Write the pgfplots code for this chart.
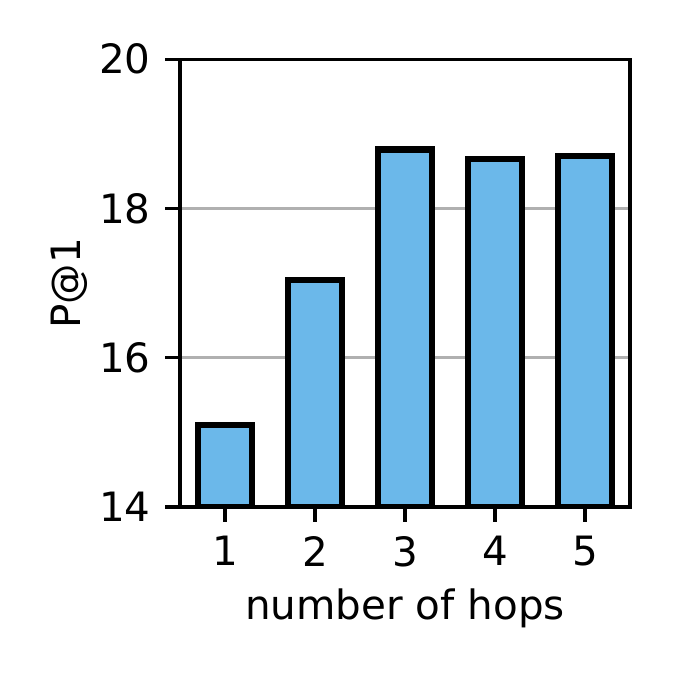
\documentclass[border=0pt]{standalone}
\usepackage{pgfplots}
\pgfplotsset{compat=1.18}
\usepackage{fontspec}
\setmainfont{DejaVu Sans}
\definecolor{barblue}{HTML}{6BB8EA}
\definecolor{gridgray}{HTML}{B0B0B0}
\begin{document}
\begin{tikzpicture}
\path[use as bounding box] (-43.2pt,-40.3pt) rectangle (118.8pt,121.7pt);
\begin{axis}[at={(0,0)}, anchor=south west,
    scale only axis, width=108pt, height=107.5pt,
    xmin=0.5, xmax=5.5, ymin=14, ymax=20,
    xtick={1,2,3,4,5}, ytick={14,16,18,20},
    ymajorgrids, grid style={gridgray, line width=0.8pt},
    axis line style={line width=0.8pt},
    major tick style={black, line width=0.8pt},
    major tick length=3.5pt,
    tick align=outside, xtick pos=bottom, ytick pos=left,
    /pgf/number format/assume math mode=true,
    ticklabel style={font=\fontsize{9.7}{12}\selectfont},
    label style={font=\fontsize{9.7}{12}\selectfont},
    xlabel={number of hops}, ylabel={P@1},
    xlabel style={yshift=1.7pt},
    ylabel style={yshift=-4pt},
    ]
\addplot[ybar, bar width=0.6, fill=barblue, draw=black, line width=1.5pt, bar shift=0pt]
    coordinates {(1,15.10) (2,17.04) (3,18.79) (4,18.66) (5,18.70)};
\end{axis}
\end{tikzpicture}
\end{document}
